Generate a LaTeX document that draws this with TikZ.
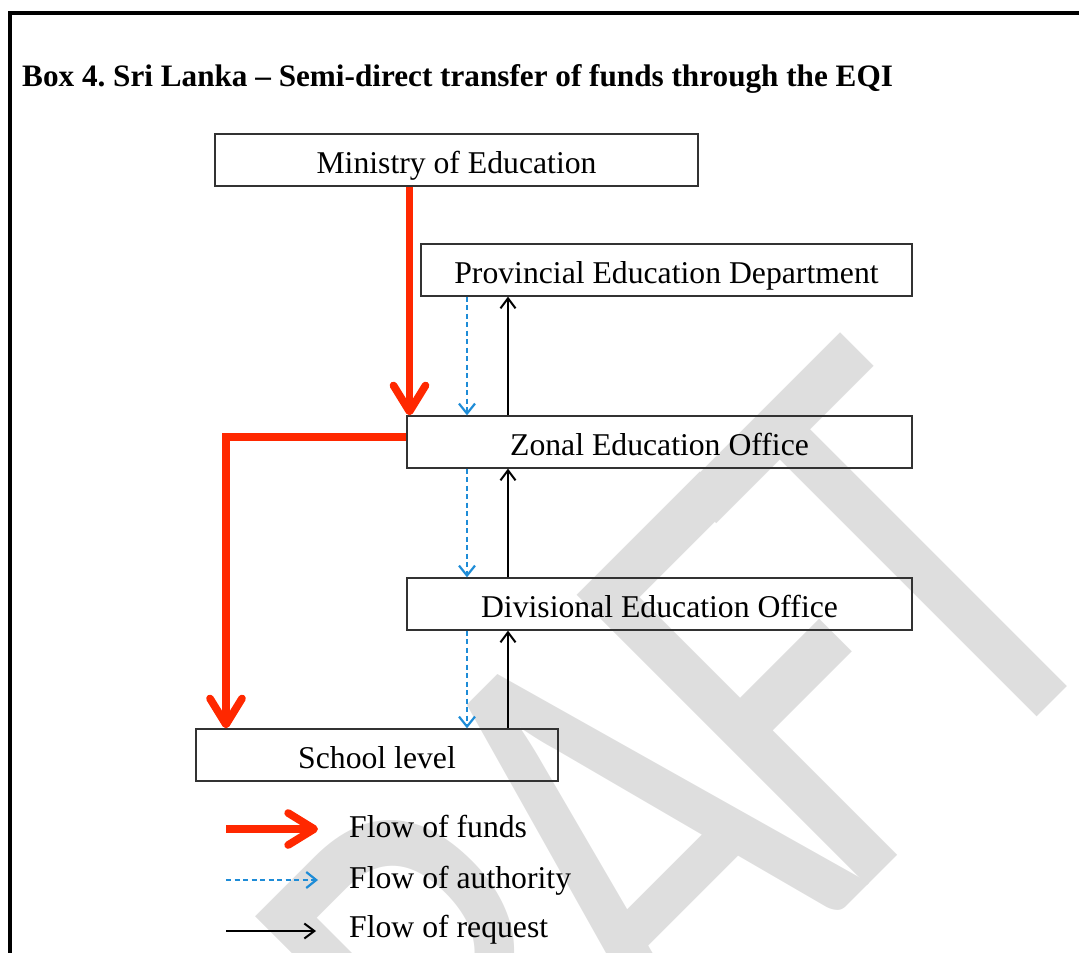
\documentclass[tikz,border=0pt]{standalone}
\usepackage{fontspec}
\usepackage{graphicx}
\setmainfont{Liberation Serif}
\newfontfamily\wmfont{Carlito}
\newcommand\wmletter[1]{\resizebox{!}{410pt}{\wmfont #1}}
\usetikzlibrary{arrows.meta,calc}
\definecolor{fundred}{RGB}{255,40,0}
\definecolor{authblue}{RGB}{30,140,215}
\definecolor{wmgrey}{RGB}{222,222,222}
\definecolor{boxline}{RGB}{50,50,50}
\begin{document}
\begin{tikzpicture}[x=1pt,y=-1pt,
  box/.style={draw=boxline, line width=1.3pt, minimum height=52pt, inner sep=0pt,
    text height=26pt, text depth=0pt, font=\fontsize{31.7}{38}\selectfont},
  funds/.style={draw=fundred, line width=7.7pt, -{Straight Barb[length=26pt,width=32pt,round]}},
  auth/.style={draw=authblue, line width=1.3pt, dash pattern=on 5pt off 3.5pt,
    -{Straight Barb[length=10pt,width=16pt,line width=2.2pt]}},
  req/.style={draw=black, line width=1.3pt, -{Straight Barb[length=10pt,width=15pt,line width=2pt]}},
  lbl/.style={anchor=base west, inner sep=0pt, font=\fontsize{31.7}{38}\selectfont},
  wm/.style={text=wmgrey, inner sep=0pt, rotate=45, xscale=0.75, anchor=base},
]
\useasboundingbox (0,0) rectangle (1079,953);
% watermark
\begin{scope}
\clip (0,0) rectangle (1079,953);
\node[wm] (wmD) at (446.2,1307.5) {\wmletter{D}};
\node[wm] (wmR) at (613.7,1139.8) {\wmletter{R}};
\node[wm] (wmA) at (772.9,980.7) {\wmletter{A}};
\node[wm] (wmF) at (922.8,830.8) {\wmletter{F}};
\node[wm] (wmT) at (1052.2,701.5) {\wmletter{T}};
\end{scope}
% frame
\draw[line width=4pt] (10,953) -- (10,13) -- (1079,13);
% title
\node[anchor=base west, inner sep=0pt, font=\bfseries\fontsize{31.2}{38}\selectfont] (title) at (22,86)
  {Box 4.\ Sri Lanka – Semi-direct transfer of funds through the EQI};
% boxes
\node[box, minimum width=483pt] (ministry) at (456.5,160) {Ministry of Education};
\node[box, minimum width=491pt] (prov) at (666.5,270) {Provincial Education Department};
\node[box, minimum width=505pt] (zonal) at (659.5,442) {Zonal Education Office};
\node[box, minimum width=505pt] (div) at (659.5,604) {Divisional Education Office};
\node[box, minimum width=362pt] (school) at (377,755) {School level};
% guide coordinates
\coordinate (rx) at (409.5,0);
\coordinate (rx2) at (226,0);
\coordinate (bx) at (467,0);
\coordinate (kx) at (508,0);
% funds
\draw[funds] (ministry.south -| rx) -- (zonal.north -| rx);
\draw[funds] ([yshift=5pt]zonal.west) -| (school.north -| rx2);
% authority
\draw[auth] (prov.south -| bx) -- (zonal.north -| bx);
\draw[auth] (zonal.south -| bx) -- (div.north -| bx);
\draw[auth] (div.south -| bx) -- (school.north -| bx);
% request
\draw[req] (zonal.north -| kx) -- (prov.south -| kx);
\draw[req] (div.north -| kx) -- (zonal.south -| kx);
\draw[req] (school.north -| kx) -- (div.south -| kx);
% legend
\coordinate (f1) at (226,829); \coordinate (f2) at (318,829);
\coordinate (a1) at (226,880); \coordinate (a2) at (318,880);
\coordinate (q1) at (226,931); \coordinate (q2) at (316,931);
\draw[funds] (f1) -- (f2);
\draw[auth] (a1) -- (a2);
\draw[req] (q1) -- (q2);
\node[lbl] (lf) at (349,837) {Flow of funds};
\node[lbl] (la) at (349,888) {Flow of authority};
\node[lbl] (lq) at (349,937) {Flow of request};
\end{tikzpicture}
\end{document}
